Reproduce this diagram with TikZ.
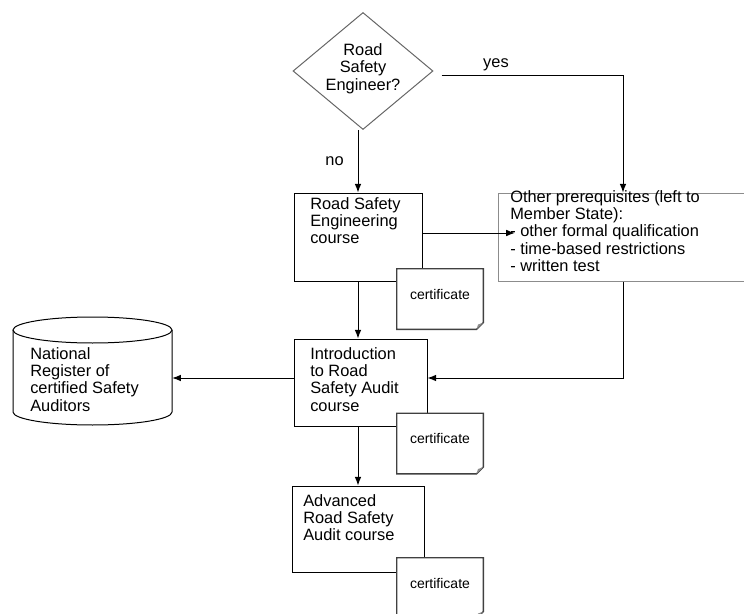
\documentclass[tikz,border=0pt]{standalone}
\usepackage{fontspec}
\setmainfont{Liberation Sans}
\usetikzlibrary{shapes.geometric, arrows.meta, positioning}

\begin{document}
\begin{tikzpicture}[x=0.75pt, y=-0.75pt,
        every node/.style = {font=\fontsize{12.3}{13}\selectfont},
        box/.style = {draw, rectangle, line width=0.75pt, inner sep=0pt},
        txt/.style = {anchor=north west, align=left, inner sep=0pt},
        doc/.style = {rectangle, fill=white, inner sep=0pt,
            minimum width=64.5pt, minimum height=45pt,
            label={[font=\fontsize{10.5}{12}\selectfont, yshift=3.75pt]center:certificate}},
        docline/.style = {draw=black!75, line width=1.1pt, line join=miter},
        arr/.style = {line width=0.75pt, -{Latex[length=6.5pt,width=5pt]}}
                    ]
        \useasboundingbox (0,0) rectangle (744,614);

        % decision
        \node(dia) [diamond, draw=black!60, line width=0.75pt, inner sep=0pt,
            minimum width=105pt, minimum height=87.75pt,
            label={[align=center, inner sep=0pt, yshift=1.9pt]center:Road\\Safety\\Engineer?}] at (363,71) {};

        % course boxes
        \node(rse)   [box, minimum width=96pt, minimum height=66pt] at (358,237) {};
        \node(intro) [box, minimum width=99.75pt, minimum height=65.25pt] at (360.5,382.5) {};
        \node(adv)   [box, minimum width=99pt, minimum height=64.5pt] at (358,529) {};
        \node(pre)   [box, draw=black!45, minimum width=187.5pt, minimum height=66pt] at (623,237) {};

        % register (cylinder)
        \node(reg) [inner sep=0pt, minimum width=119.25pt, minimum height=81pt] at (92.5,371) {};
        \draw[line width=0.75pt] (92.5,330) ellipse [x radius=79.5, y radius=13];
        \draw[line width=0.75pt] (13,330) -- (13,412)
            arc[start angle=180, end angle=0, x radius=79.5, y radius=13] -- (172,330);

        % certificates
        \node(cert1) [doc] at (440,299) {};
        \node(cert2) [doc] at (440,443.5) {};
        \node(cert3) [doc] at (440,588) {};
        \foreach \c in {cert1, cert2, cert3} {
            \draw[docline] (\c.north west) -- (\c.north east) -- ([yshift=5pt]\c.south east)
                -- ([xshift=-5pt]\c.south east) -- (\c.south west) -- cycle;
            \fill[black!45] ([yshift=5pt]\c.south east) -- ([xshift=-4pt,yshift=3.5pt]\c.south east)
                -- ([xshift=-5pt]\c.south east) -- cycle;
        }

        % texts
        \node(rse-t)   [txt] at (310,197) {Road Safety\\Engineering\\course};
        \node(intro-t) [txt] at (310,347) {Introduction\\to Road\\Safety Audit\\course};
        \node(adv-t)   [txt] at (303,494) {Advanced\\Road Safety\\Audit course};
        \node(pre-t)   [txt] at (510,190) {Other prerequisites (left to\\Member State):\\- other formal qualification\\- time-based restrictions\\- written test};
        \node(reg-t)   [txt] at (30,347) {National\\Register of\\certified Safety\\Auditors};

        % connectors
        \draw[arr] (rse.north |- dia.south) -- node[left, xshift=-7pt] {no} (rse.north);
        \draw[arr] ([xshift=6pt,yshift=-3pt]dia.east) -| node[pos=0.15, above, yshift=-1pt] {yes} (pre.north);
        \draw[arr, shorten >=-13pt] (rse.east |- 0,233) -- (pre.west |- 0,233);
        \draw[arr] (rse.south) -- (rse.south |- intro.north);
        \draw[arr] (pre.south) |- (intro.east |- 0,378);
        \draw[arr] (intro.west |- 0,378) -- (reg.east |- 0,378);
        \draw[arr] (adv.north |- intro.south) -- (adv.north);
\end{tikzpicture}
\end{document}
